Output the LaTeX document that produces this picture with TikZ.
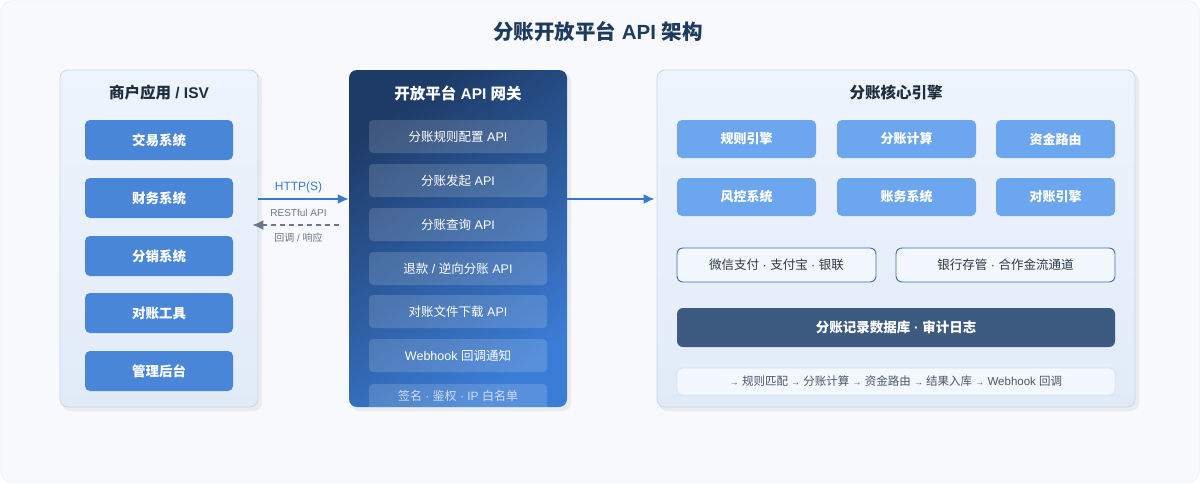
\documentclass[tikz,border=0pt]{standalone}
\usepackage{fontspec}
\setmainfont{Liberation Sans}
\newfontfamily\cjk{Noto Sans CJK SC}
\newcommand\zh[1]{{\cjk #1}}
\usetikzlibrary{arrows.meta}
\definecolor{bgc}{HTML}{F7F9FC}
\definecolor{bgline}{HTML}{E8EDF4}
\definecolor{titlec}{HTML}{1E3A5F}
\definecolor{ptitle}{HTML}{1F2D3D}
\definecolor{paneltop}{HTML}{EEF4FD}
\definecolor{panelbot}{HTML}{E1EBF8}
\definecolor{panelline}{HTML}{C8D8EC}
\definecolor{btnblue}{HTML}{4A86D8}
\definecolor{gridblue}{HTML}{6BA6EE}
\definecolor{gwdark}{HTML}{1E3A66}
\definecolor{gwlight}{HTML}{3B7DD6}
\definecolor{arrowblue}{HTML}{3A78D0}
\definecolor{graytext}{HTML}{6B7788}
\definecolor{dbc}{HTML}{3D5A80}
\definecolor{outline}{HTML}{3F6EA8}
\definecolor{lightfill}{HTML}{F3F7FE}
\definecolor{flowline}{HTML}{D6E2F2}
\definecolor{flowtext}{HTML}{4B586A}
\definecolor{chantext}{HTML}{2E3A48}
\tikzset{
  panel/.style={rounded corners=8pt, draw=panelline, line width=0.8pt, top color=paneltop, bottom color=panelbot, inner sep=0pt},
  gwpanel/.style={rounded corners=8pt, top color=gwdark, bottom color=gwlight, shading angle=35, inner sep=0pt},
  ptitlestyle/.style={font=\fontsize{15.5}{18}\selectfont\bfseries, text=ptitle},
  lbtn/.style={rounded corners=5pt, fill=btnblue, minimum width=148pt, minimum height=40pt, text=white, font=\cjk\fontsize{13.5}{15}\selectfont\bfseries, inner sep=0pt},
  gwitem/.style={rounded corners=4pt, fill=white, fill opacity=0.15, text opacity=1, minimum width=178pt, minimum height=33pt, text=white, font=\fontsize{12.5}{15}\selectfont, inner sep=0pt},
  gbtn/.style={rounded corners=5pt, fill=gridblue, minimum height=38pt, text=white, font=\cjk\fontsize{13}{15}\selectfont\bfseries, inner sep=0pt},
  chan/.style={rounded corners=6pt, draw=outline, line width=0.9pt, fill=lightfill, minimum height=34pt, text=chantext, font=\fontsize{12.5}{15}\selectfont, inner sep=0pt},
  shadowbox/.style={rounded corners=8pt, fill=black, fill opacity=0.05},
}
\begin{document}
\begin{tikzpicture}[x=1pt,y=-1pt]
\useasboundingbox (0,0) rectangle (1200,483);
\fill[bgc, draw=bgline, rounded corners=12pt] (0.5,0.5) rectangle (1199.5,482.5);

\node[font=\fontsize{20.5}{24}\selectfont\bfseries, text=titlec] (title) at (598,32) {\zh{分账开放平台} API \zh{架构}};

% shadows
\fill[shadowbox] (62,73) rectangle (262,411);
\fill[shadowbox] (351,73) rectangle (571,411);
\fill[shadowbox] (659,73) rectangle (1139,411);

% left panel
\node[panel, minimum width=198pt, minimum height=337pt] (merchant) at (159,238.5) {};
\node[ptitlestyle] (mtitle) at (159,93) {\zh{商户应用} / ISV};
\node[lbtn] (m1) at (159,140) {交易系统};
\node[lbtn] (m2) at (159,198) {财务系统};
\node[lbtn] (m3) at (159,256) {分销系统};
\node[lbtn] (m4) at (159,313) {对账工具};
\node[lbtn] (m5) at (159,371) {管理后台};

% gateway panel
\node[gwpanel, minimum width=218pt, minimum height=337pt] (gateway) at (458,238.5) {};
\node[font=\fontsize{15.5}{18}\selectfont\bfseries, text=white] (gtitle) at (458,93) {\zh{开放平台} API \zh{网关}};
\node[gwitem] (g1) at (458,136.5) {\zh{分账规则配置} API};
\node[gwitem] (g2) at (458,180.5) {\zh{分账发起} API};
\node[gwitem] (g3) at (458,224.5) {\zh{分账查询} API};
\node[gwitem] (g4) at (458,268.5) {\zh{退款} / \zh{逆向分账} API};
\node[gwitem] (g5) at (458,311.5) {\zh{对账文件下载} API};
\node[gwitem] (g6) at (458,355.5) {Webhook \zh{回调通知}};
\begin{scope}
\clip[rounded corners=8pt] (349,70) rectangle (567,407);
\fill[white, fill opacity=0.15, rounded corners=4pt] (369,384) rectangle (547,417);
\end{scope}
\node[text=white, text opacity=0.72, font=\fontsize{12}{14}\selectfont] (g7) at (458,396) {\zh{签名} · \zh{鉴权} · IP \zh{白名单}};

% core panel
\node[panel, minimum width=478pt, minimum height=337pt] (core) at (896,238.5) {};
\node[ptitlestyle, font=\cjk\fontsize{15.5}{18}\selectfont\bfseries] (ctitle) at (896,93) {分账核心引擎};
\node[gbtn, minimum width=139pt] (c1) at (746.5,139) {规则引擎};
\node[gbtn, minimum width=139pt] (c2) at (906.5,139) {分账计算};
\node[gbtn, minimum width=119pt] (c3) at (1055.5,139) {资金路由};
\node[gbtn, minimum width=139pt] (c4) at (746.5,197) {风控系统};
\node[gbtn, minimum width=139pt] (c5) at (906.5,197) {账务系统};
\node[gbtn, minimum width=119pt] (c6) at (1055.5,197) {对账引擎};
\node[chan, minimum width=199pt] (ch1) at (776.5,265) {\zh{微信支付} · \zh{支付宝} · \zh{银联}};
\node[chan, minimum width=219pt] (ch2) at (1005.5,265) {\zh{银行存管} · \zh{合作金流通道}};
\node[rounded corners=6pt, fill=dbc, minimum width=438pt, minimum height=39pt, text=white, font=\fontsize{13.5}{16}\selectfont\bfseries, inner sep=0pt] (db) at (896,327.5) {\zh{分账记录数据库} · \zh{审计日志}};
\node[rounded corners=5pt, fill=lightfill, draw=flowline, line width=0.7pt, minimum width=438pt, minimum height=27pt, text=flowtext, font=\fontsize{11.5}{14}\selectfont, inner sep=0pt] (flow) at (896,381.5) {{\fontsize{9}{14}\selectfont →} \zh{规则匹配} {\fontsize{9}{14}\selectfont →} \zh{分账计算} {\fontsize{9}{14}\selectfont →} \zh{资金路由} {\fontsize{9}{14}\selectfont →} \zh{结果入库} {\fontsize{9}{14}\selectfont →} Webhook \zh{回调}};

% connectors
\coordinate (row1) at (0,199);
\coordinate (row2) at (0,225);
\draw[arrowblue, line width=2pt, -{Latex[length=11pt,width=10pt]}] (merchant.east |- row1) -- (gateway.west |- row1);
\node[text=arrowblue, font=\fontsize{12}{14}\selectfont] (lhttp) at (298.5,187) {HTTP(S)};
\draw[graytext, line width=1.6pt, dash pattern=on 5pt off 4pt, -{Latex[length=11pt,width=10pt]}] ([xshift=-10pt]gateway.west |- row2) -- ([xshift=-6pt]merchant.east |- row2);
\node[text=graytext, font=\fontsize{10}{12}\selectfont] (lrest) at (298.5,213) {RESTful API};
\node[text=graytext, font=\fontsize{10}{12}\selectfont] (lcb) at (298.5,238) {\zh{回调} / \zh{响应}};
\draw[arrowblue, line width=2pt, -{Latex[length=11pt,width=10pt]}] (gateway.east |- row1) -- ([xshift=-2pt]core.west |- row1);
\end{tikzpicture}
\end{document}
